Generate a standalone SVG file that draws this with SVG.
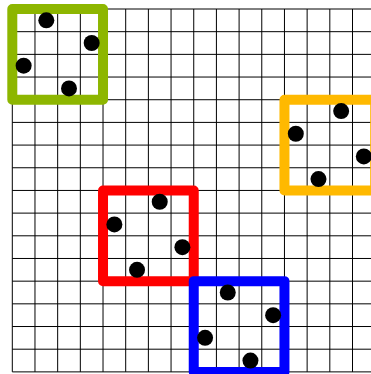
<svg xmlns="http://www.w3.org/2000/svg" width="371" height="374" viewBox="0 0 371 374">
<style>
.grid{fill:none;stroke:#000;stroke-width:1}
.box{fill:none;stroke-width:10;stroke-linejoin:round}
.dot{fill:#000}
</style>
<defs>
<g id="dotsA"><circle class="dot" cx="34.02" cy="11.34" r="8"/><circle class="dot" cx="79.38" cy="34.02" r="8"/><circle class="dot" cx="11.34" cy="56.7" r="8"/><circle class="dot" cx="56.7" cy="79.38" r="8"/></g>
<g id="dotsB"><circle class="dot" cx="56.7" cy="11.34" r="8"/><circle class="dot" cx="11.34" cy="34.02" r="8"/><circle class="dot" cx="79.38" cy="56.7" r="8"/><circle class="dot" cx="34.02" cy="79.38" r="8"/></g>
</defs>
<rect width="371" height="374" fill="#fff"/>
<g id="grid" class="grid">
<path d="M12.3 9V371.88M34.98 9V371.88M57.66 9V371.88M80.34 9V371.88M103.02 9V371.88M125.7 9V371.88M148.38 9V371.88M171.06 9V371.88M193.74 9V371.88M216.42 9V371.88M239.1 9V371.88M261.78 9V371.88M284.46 9V371.88M307.14 9V371.88M329.82 9V371.88M352.5 9V371.88"/>
<path d="M12.3 9H375.18M12.3 31.68H375.18M12.3 54.36H375.18M12.3 77.04H375.18M12.3 99.72H375.18M12.3 122.4H375.18M12.3 145.08H375.18M12.3 167.76H375.18M12.3 190.44H375.18M12.3 213.12H375.18M12.3 235.8H375.18M12.3 258.48H375.18M12.3 281.16H375.18M12.3 303.84H375.18M12.3 326.52H375.18M12.3 349.2H375.18M12.3 371.88H375.18"/>
</g>
<g id="green" transform="translate(12.3,9)">
<rect class="box" width="90.72" height="90.72" stroke="#8DB600"/>
<use href="#dotsA"/>
</g>
<g id="yellow" transform="translate(284.46,99.72)">
<rect class="box" width="90.72" height="90.72" stroke="#FFB900"/>
<use href="#dotsB"/>
</g>
<g id="red" transform="translate(103.02,190.44)">
<rect class="box" width="90.72" height="90.72" stroke="#FF0000"/>
<use href="#dotsB"/>
</g>
<g id="blue" transform="translate(193.74,281.16)">
<rect class="box" width="90.72" height="90.72" stroke="#0000FF"/>
<use href="#dotsA"/>
</g>
</svg>
